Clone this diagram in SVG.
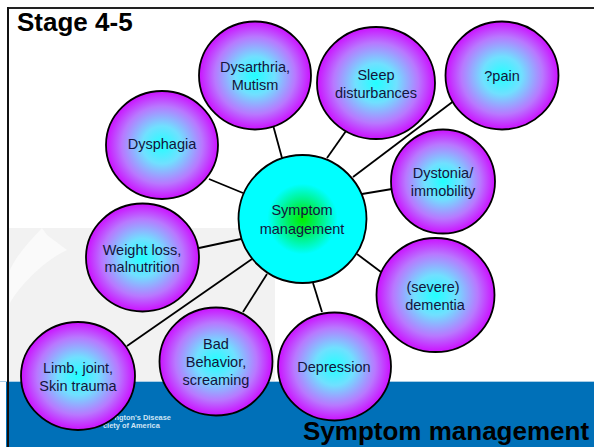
<svg xmlns="http://www.w3.org/2000/svg" width="594" height="447" viewBox="0 0 594 447">
  <style>
    .t { font-family: "Liberation Sans", Arial, sans-serif; font-size: 14.5px; fill: #14143c; text-anchor: middle; }
    .h { font-family: "Liberation Sans", Arial, sans-serif; font-size: 26px; font-weight: bold; fill: #000; }
    .l { font-family: "Liberation Sans", Arial, sans-serif; font-size: 7.4px; font-weight: bold; fill: #cfe4f4; }
    .n { fill: url(#g); stroke: #000; stroke-width: 1.8; }
    .c { fill: url(#gc); stroke: #000; stroke-width: 1.8; }
    #connectors line { stroke: #000; stroke-width: 1.8; }
  </style>
  <defs>
    <radialGradient id="g">
      <stop offset="0" stop-color="#22ffff"/>
      <stop offset="0.35" stop-color="#70e0ff"/>
      <stop offset="0.72" stop-color="#b878ff"/>
      <stop offset="1" stop-color="#cc10ff"/>
    </radialGradient>
    <radialGradient id="gc">
      <stop offset="0" stop-color="#00ee00"/>
      <stop offset="0.22" stop-color="#00f060"/>
      <stop offset="0.55" stop-color="#00ffff"/>
      <stop offset="1" stop-color="#00ffff"/>
    </radialGradient>
  </defs>

  <g id="background">
    <rect width="594" height="447" fill="#fff"/>
    <rect x="9" y="228" width="266" height="154" fill="#f2f2f2"/>
    <path d="M42 228 C28 243 16 256 10 270 L10 303 C20 285 45 260 67 250 L47 235 Z" fill="#fafafa"/>
    <rect x="6" y="381" width="588" height="66" fill="#0070b8"/>
    <rect x="0" y="381" width="594" height="1" fill="#a9cde6"/>
    <text class="l" x="114.5" y="420">ngton's Disease</text>
    <text class="l" x="103" y="428">ciety of America</text>
    <rect x="7" y="7" width="587" height="2" fill="#222"/>
    <rect x="7" y="7" width="2" height="440" fill="#111"/>
  </g>

  <g id="connectors">
    <line x1="209" y1="179" x2="243" y2="193"/>
    <line x1="273" y1="125" x2="282" y2="158"/>
    <line x1="346" y1="131" x2="327" y2="158"/>
    <line x1="455" y1="100" x2="353" y2="177"/>
    <line x1="392" y1="189" x2="362" y2="194"/>
    <line x1="357" y1="254" x2="381" y2="272"/>
    <line x1="313" y1="283" x2="322" y2="312"/>
    <line x1="267" y1="274" x2="243" y2="312"/>
    <line x1="252" y1="259" x2="127" y2="346"/>
    <line x1="241" y1="239" x2="199" y2="248"/>
  </g>

  <g id="dysphagia"><ellipse class="n" cx="162" cy="145" rx="56" ry="54"/><text class="t" x="162" y="149">Dysphagia</text></g>
  <g id="dysarthria"><ellipse class="n" cx="255" cy="75.5" rx="56" ry="54"/><text class="t" x="255" y="72">Dysarthria,</text><text class="t" x="255" y="90">Mutism</text></g>
  <g id="sleep"><ellipse class="n" cx="376" cy="83" rx="59" ry="56"/><text class="t" x="376" y="80">Sleep</text><text class="t" x="376" y="98">disturbances</text></g>
  <g id="pain"><ellipse class="n" cx="502" cy="75.5" rx="56.5" ry="54"/><text class="t" x="502" y="81">?pain</text></g>
  <g id="dystonia"><ellipse class="n" cx="443" cy="181.5" rx="52" ry="52"/><text class="t" x="443" y="178">Dystonia/</text><text class="t" x="443" y="196">immobility</text></g>
  <g id="dementia"><ellipse class="n" cx="435.5" cy="295" rx="59" ry="57"/><text class="t" x="433" y="292">(severe)</text><text class="t" x="435" y="310">dementia</text></g>
  <g id="depression"><ellipse class="n" cx="334.5" cy="366.5" rx="56.5" ry="54"/><text class="t" x="334" y="372">Depression</text></g>
  <g id="behavior"><ellipse class="n" cx="216" cy="361.5" rx="56.5" ry="54"/><text class="t" x="216" y="349">Bad</text><text class="t" x="216" y="367">Behavior,</text><text class="t" x="216" y="385">screaming</text></g>
  <g id="limb"><ellipse class="n" cx="78" cy="376" rx="57" ry="54"/><text class="t" x="78" y="373">Limb, joint,</text><text class="t" x="78" y="391">Skin trauma</text></g>
  <g id="weight"><ellipse class="n" cx="142.5" cy="257.5" rx="56.5" ry="54"/><text class="t" x="142" y="255">Weight loss,</text><text class="t" x="142" y="272">malnutrition</text></g>
  <g id="center"><ellipse class="c" cx="302.5" cy="219" rx="64" ry="64"/><text class="t" x="302" y="215">Symptom</text><text class="t" x="302" y="234">management</text></g>

  <text class="h" x="17" y="31">Stage 4-5</text>
  <text class="h" x="303" y="440">Symptom management</text>
</svg>
